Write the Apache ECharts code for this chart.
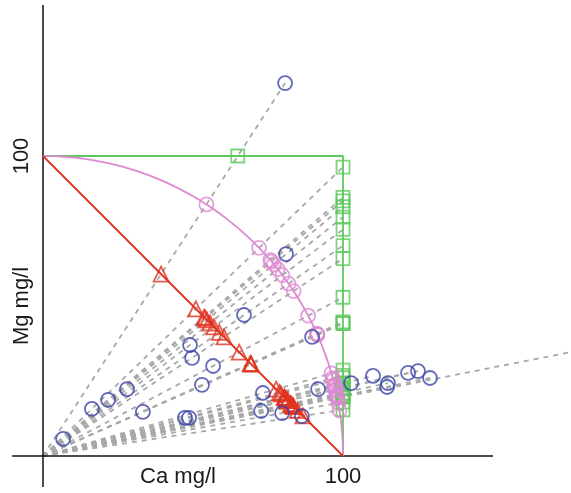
<!DOCTYPE html>
<html>
<head>
<meta charset="utf-8">
<script src="https://cdn.jsdelivr.net/npm/echarts@6/dist/echarts.min.js"></script>
<style>
  html, body { margin: 0; padding: 0; background: #fff; }
  #main { width: 571px; height: 493px; }
</style>
</head>
<body>
<div id="main"></div>
<script>
// measured samples (mg/l)
var ca = [80.7, 81, 67, 49, 49.7, 56.7, 53, 28, 21.7, 16.3, 33.3, 6.7, 47.3, 48.7,
          89.7, 73.3, 72.7, 79.7, 86.3, 91.7, 102.7, 110, 115, 114.7, 121.7, 125, 129, 186];
var mg = [124.3, 67.3, 47, 37, 32.7, 30, 23.7, 22.3, 18.7, 15.7, 14.7, 5.7, 12.7, 12.7,
          39.7, 21, 15, 14.3, 13.3, 22.3, 24.3, 26.7, 24.3, 23, 27.7, 28.3, 26, 36.6];
var xLabels = {45: 'Ca mg/l', 100: '100'};
var yLabels = {50: 'Mg mg/l', 100: '100'};
// the two axis lines, running a little past the origin
var axisLines = [
  {coords: [[-10.3, 0], [150, 0]]},
  {coords: [[0, -10.3], [0, 150.3]]}
];

var FONT = 'Liberation Sans, Arial, sans-serif';
var BLUE = '#3b43a6', RED = '#e2321f', PINK = '#dd8ad2', GREEN = '#5cc95c', GREY = '#a8a8a8';

// projections of every sample onto the three "closure" curves
var raw = [], tri = [], arc = [], sq = [], rays = [];
for (var i = 0; i < ca.length; i++) {
  var x = ca[i], y = mg[i];
  raw.push([x, y]);
  var s = x + y;
  tri.push([100 * x / s, 100 * y / s]);
  var r = Math.sqrt(x * x + y * y);
  arc.push([100 * x / r, 100 * y / r]);
  var m = Math.max(x, y);
  var q = [100 * x / m, 100 * y / m];
  sq.push(q);
  var end = m > 100 ? [x, y] : q;
  rays.push({coords: [[0, 0], end]});
}

// quarter circle, radius 100
var circle = [];
for (var a = 0; a <= 90; a += 1) {
  circle.push([100 * Math.sin(a * Math.PI / 180), 100 * Math.cos(a * Math.PI / 180)]);
}

var myChart = echarts.init(document.getElementById('main'));
var option = {
  animation: false,
  backgroundColor: '#fff',
  grid: { left: 43, right: 78, top: 6, bottom: 37, containLabel: false, outerBoundsMode: 'none' },
  xAxis: {
    type: 'value', min: 0, max: 150, interval: 5,
    axisLine: { show: false },
    axisTick: { show: false },
    splitLine: { show: false },
    axisLabel: {
      margin: 10, fontSize: 22, color: '#1a1a1a', fontFamily: FONT,
      hideOverlap: false,
      formatter: function (v) { return xLabels[v] || ''; }
    }
  },
  yAxis: {
    type: 'value', min: 0, max: 150, interval: 5,
    axisLine: { show: false },
    axisTick: { show: false },
    splitLine: { show: false },
    axisLabel: {
      margin: 10, fontSize: 22, color: '#1a1a1a', fontFamily: FONT, rotate: 90,
      hideOverlap: false,
      formatter: function (v) { return yLabels[v] || ''; }
    }
  },
  series: [
    {
      type: 'lines', coordinateSystem: 'cartesian2d', clip: false, z: 1,
      lineStyle: { color: GREY, width: 1.8, type: [5, 5], opacity: 1 },
      data: rays
    },
    {
      type: 'lines', coordinateSystem: 'cartesian2d', clip: false, z: 1,
      lineStyle: { color: '#111', width: 1.5, opacity: 1 },
      data: axisLines
    },
    {
      type: 'line', data: [[0, 100], [100, 100], [100, 0]], showSymbol: false, z: 2,
      lineStyle: { color: GREEN, width: 1.8 }
    },
    {
      type: 'line', data: circle, showSymbol: false, z: 2,
      lineStyle: { color: PINK, width: 1.8 }
    },
    {
      type: 'line', data: [[0, 100], [100, 0]], showSymbol: false, z: 2,
      lineStyle: { color: RED, width: 1.8 }
    },
    {
      type: 'scatter', data: sq, symbol: 'rect', symbolSize: 13, z: 3,
      itemStyle: { color: 'rgba(0,0,0,0)', borderColor: GREEN, borderWidth: 1.8 }
    },
    {
      type: 'scatter', data: arc, symbol: 'circle', symbolSize: 14, z: 3,
      itemStyle: { color: 'rgba(0,0,0,0)', borderColor: PINK, borderWidth: 1.8 }
    },
    {
      type: 'scatter', data: tri, symbol: 'triangle', symbolSize: 15, z: 3,
      itemStyle: { color: 'rgba(0,0,0,0)', borderColor: RED, borderWidth: 1.8 }
    },
    {
      type: 'scatter', data: raw, symbol: 'circle', symbolSize: 14, z: 4,
      itemStyle: { color: 'rgba(0,0,0,0)', borderColor: BLUE, borderWidth: 1.8 }
    }
  ]
};
myChart.setOption(option);
</script>
</body>
</html>
